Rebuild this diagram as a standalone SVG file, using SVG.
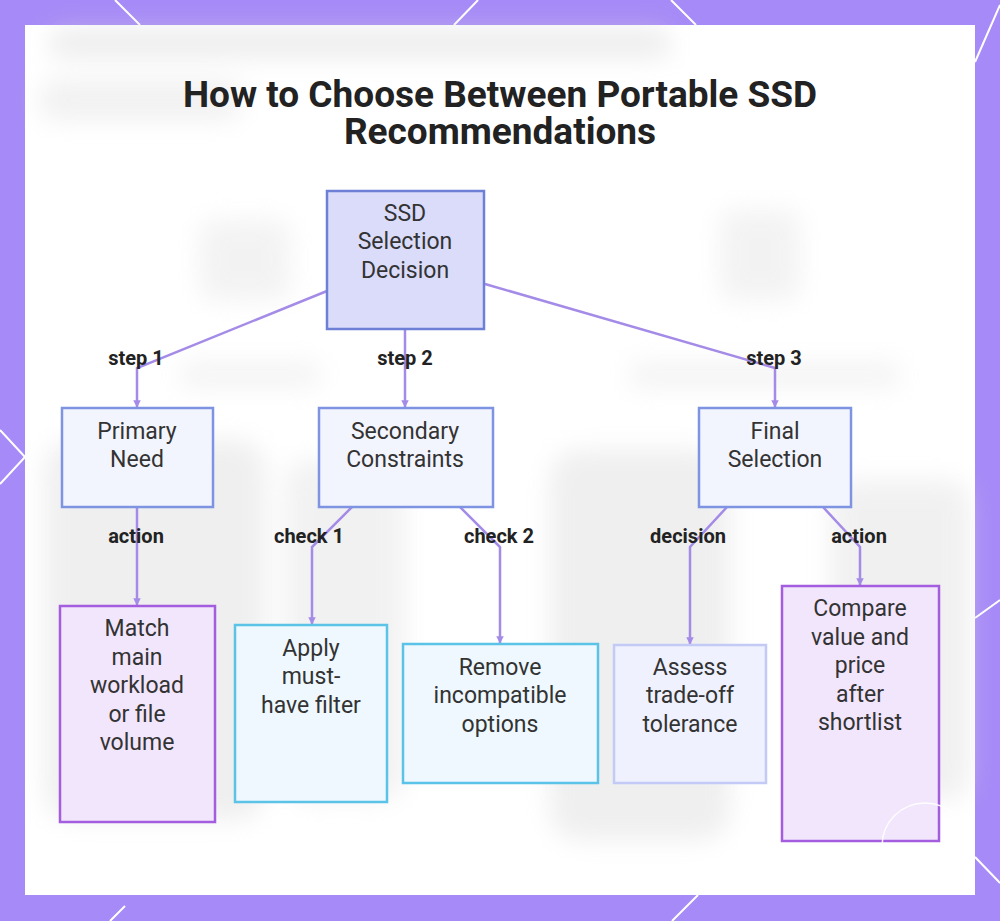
<svg xmlns="http://www.w3.org/2000/svg" width="1000" height="921" viewBox="0 0 1000 921">
<defs>
<style>
.node text{font-family:Roboto,"Liberation Sans",sans-serif;font-size:23px;fill:#333;text-anchor:middle}
.lbl{font-family:Roboto,"Liberation Sans",sans-serif;font-size:20px;font-weight:bold;fill:#222;text-anchor:middle}
.title{font-family:Roboto,"Liberation Sans",sans-serif;font-size:37px;font-weight:bold;fill:#222;text-anchor:middle}
.edge{fill:none;stroke:#a48be8;stroke-width:2.5}
.root{fill:#dadcfa;stroke:#6e80d6;stroke-width:2.5}
.mid{fill:#f3f5fe;stroke:#7e94e2;stroke-width:2.5}
.purp{fill:#f2e6fd;stroke:#a55de0;stroke-width:2.5}
.cyan{fill:#eef8fe;stroke:#5cc3e8;stroke-width:2.5}
.lav{fill:#eff1fe;stroke:#c2caf5;stroke-width:2.5}
.deco{stroke:#fff;stroke-width:2;fill:none}
</style>
<marker id="arr" viewBox="0 0 10 10" refX="9" refY="5" markerWidth="3" markerHeight="3" orient="auto"><path d="M0,0L10,5L0,10z" fill="#a48be8"/></marker>
<filter id="blur" x="-50%" y="-50%" width="200%" height="200%"><feGaussianBlur stdDeviation="12"/></filter>
</defs>
<rect width="1000" height="921" fill="#a68af7"/>
<g class="deco">
<line x1="115" y1="0" x2="140" y2="25"/>
<line x1="478" y1="0" x2="454" y2="25"/>
<line x1="671" y1="0" x2="696" y2="25"/>
<line x1="1000" y1="5" x2="975" y2="62"/>
<line x1="0" y1="430" x2="25" y2="457"/>
<line x1="0" y1="484" x2="25" y2="457"/>
<line x1="975" y1="618" x2="1000" y2="600"/>
<line x1="975" y1="857" x2="1000" y2="883"/>
<line x1="672" y1="921" x2="698" y2="895"/>
<line x1="110" y1="921" x2="125" y2="906"/>
</g>
<rect x="25" y="25" width="950" height="870" fill="#ffffff"/>
<g filter="url(#blur)" opacity="0.45">
<rect x="50" y="28" width="620" height="30" rx="12" fill="#d8d8d8"/>
<rect x="40" y="80" width="200" height="40" rx="15" fill="#e0e0e0"/>
<rect x="200" y="220" width="90" height="80" rx="15" fill="#e4e4e4"/>
<rect x="720" y="210" width="80" height="90" rx="15" fill="#e4e4e4"/>
<rect x="180" y="362" width="140" height="26" rx="8" fill="#e6e6e6"/>
<rect x="630" y="362" width="270" height="26" rx="8" fill="#e6e6e6"/>
<rect x="45" y="440" width="220" height="380" rx="30" fill="#dcdcdc"/>
<rect x="285" y="460" width="120" height="340" rx="25" fill="#e2e2e2"/>
<rect x="550" y="450" width="180" height="390" rx="30" fill="#dcdcdc"/>
<rect x="830" y="480" width="140" height="320" rx="25" fill="#e0e0e0"/>
</g>
<text class="title" x="500" y="107">How to Choose Between Portable SSD</text>
<text class="title" x="500" y="144">Recommendations</text>
<g id="connectors">
<polyline class="edge" points="327,291 137,368 137,407" marker-end="url(#arr)"/>
<polyline class="edge" points="405,329 405,407" marker-end="url(#arr)"/>
<polyline class="edge" points="485,284 775,368 775,407" marker-end="url(#arr)"/>
<polyline class="edge" points="137,507 137,605" marker-end="url(#arr)"/>
<polyline class="edge" points="352,507 312,547 312,624" marker-end="url(#arr)"/>
<polyline class="edge" points="460,507 500,547 500,643" marker-end="url(#arr)"/>
<polyline class="edge" points="727,507 690,547 690,644" marker-end="url(#arr)"/>
<polyline class="edge" points="823,507 860,547 860,585" marker-end="url(#arr)"/>
<text class="lbl" x="136" y="365">step 1</text>
<text class="lbl" x="405" y="365">step 2</text>
<text class="lbl" x="774" y="365">step 3</text>
<text class="lbl" x="136" y="543">action</text>
<text class="lbl" x="309" y="543">check 1</text>
<text class="lbl" x="499" y="543">check 2</text>
<text class="lbl" x="688" y="543">decision</text>
<text class="lbl" x="859" y="543">action</text>
</g>
<g id="root" class="node"><rect class="root" x="327" y="191" width="157" height="138"/>
<text x="405" y="221">SSD</text><text x="405" y="249">Selection</text><text x="405" y="278">Decision</text></g>
<g id="primary" class="node"><rect class="mid" x="62" y="408" width="151" height="99"/>
<text x="137" y="439">Primary</text><text x="137" y="467">Need</text></g>
<g id="secondary" class="node"><rect class="mid" x="319" y="408" width="174" height="99"/>
<text x="405" y="439">Secondary</text><text x="405" y="467">Constraints</text></g>
<g id="final" class="node"><rect class="mid" x="699" y="408" width="152" height="99"/>
<text x="775" y="439">Final</text><text x="775" y="467">Selection</text></g>
<g id="match" class="node"><rect class="purp" x="60" y="606" width="155" height="216"/>
<text x="137" y="636">Match</text><text x="137" y="665">main</text><text x="137" y="693">workload</text><text x="137" y="722">or file</text><text x="137" y="750">volume</text></g>
<g id="apply" class="node"><rect class="cyan" x="235" y="625" width="152" height="177"/>
<text x="311" y="656">Apply</text><text x="311" y="684">must-</text><text x="311" y="713">have filter</text></g>
<g id="remove" class="node"><rect class="cyan" x="403" y="644" width="195" height="139"/>
<text x="500" y="675">Remove</text><text x="500" y="703">incompatible</text><text x="500" y="732">options</text></g>
<g id="assess" class="node"><rect class="lav" x="614" y="645" width="152" height="138"/>
<text x="690" y="675">Assess</text><text x="690" y="703">trade-off</text><text x="690" y="732">tolerance</text></g>
<g id="compare" class="node"><rect class="purp" x="782" y="586" width="157" height="255"/>
<text x="860" y="616">Compare</text><text x="860" y="645">value and</text><text x="860" y="673">price</text><text x="860" y="702">after</text><text x="860" y="730">shortlist</text></g>
<circle cx="925" cy="846" r="43" fill="none" stroke="#ffffff" stroke-width="1.5" opacity="0.9"/>
</svg>
